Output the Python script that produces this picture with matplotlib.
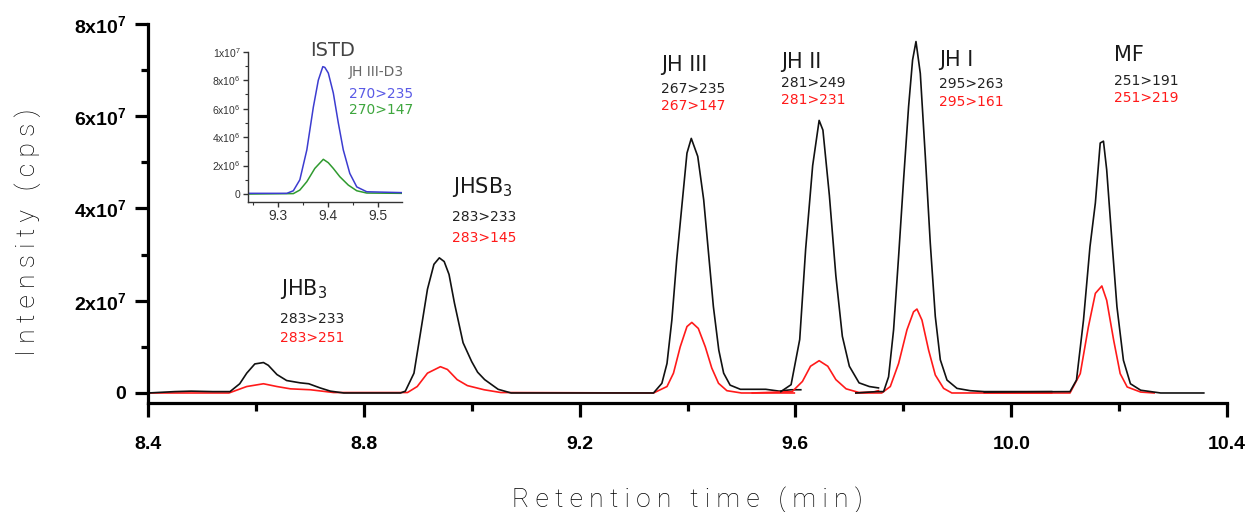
import numpy as np
import matplotlib
matplotlib.use("Agg")
import matplotlib.pyplot as plt
from matplotlib.ticker import MultipleLocator, FixedLocator

plt.rcParams['font.family'] = ['Liberation Sans', 'DejaVu Sans']
plt.rcParams['mathtext.fontset'] = 'custom'
plt.rcParams['mathtext.rm'] = 'DejaVu Sans'
plt.rcParams['mathtext.bf'] = 'Liberation Sans:bold'
plt.rcParams['mathtext.it'] = 'DejaVu Sans:italic'

# ---- chromatogram data (intensity in units of 1e7 cps) ----
# segment A: JHB3, JHSB3, JH III
seg_a_black_t = [8.40, 8.45, 8.48, 8.52, 8.552, 8.57, 8.583, 8.598, 8.614, 8.623, 8.639, 8.657,
                 8.682, 8.698, 8.719, 8.738, 8.763, 8.868, 8.877, 8.893, 8.905, 8.918, 8.930,
                 8.940, 8.949, 8.958, 8.968, 8.984, 9.000, 9.011, 9.024, 9.049, 9.073, 9.337,
                 9.3525, 9.362, 9.371, 9.380, 9.390, 9.399, 9.407, 9.419, 9.430, 9.439, 9.448,
                 9.458, 9.467, 9.479, 9.498, 9.545, 9.570, 9.592, 9.610]
seg_a_black_y = [0.00, 0.03, 0.04, 0.03, 0.03, 0.20, 0.43, 0.63, 0.66, 0.60, 0.40, 0.27,
                 0.22, 0.20, 0.11, 0.04, 0.00, 0.00, 0.04, 0.43, 1.30, 2.25, 2.79,
                 2.93, 2.85, 2.57, 1.95, 1.09, 0.68, 0.45, 0.29, 0.08, 0.00, 0.00,
                 0.21, 0.64, 1.58, 2.89, 4.11, 5.20, 5.52, 5.13, 4.19, 3.03, 1.87,
                 0.93, 0.43, 0.17, 0.08, 0.08, 0.04, 0.07, 0.07]
seg_a_red_t = [8.40, 8.55, 8.583, 8.614, 8.639, 8.664, 8.701, 8.744, 8.881, 8.899, 8.918,
               8.942, 8.955, 8.973, 8.992, 9.023, 9.054, 9.337, 9.362, 9.374, 9.3865, 9.399,
               9.408, 9.420, 9.433, 9.445, 9.4575, 9.473, 9.50, 9.598]
seg_a_red_y = [0.00, 0.00, 0.14, 0.20, 0.14, 0.09, 0.07, 0.01, 0.01, 0.14, 0.43,
               0.57, 0.51, 0.29, 0.16, 0.07, 0.01, 0.00, 0.14, 0.43, 1.00, 1.44,
               1.53, 1.40, 1.00, 0.54, 0.21, 0.05, 0.00, 0.00]

# segment B: JH II
seg_b_black_t = [9.573, 9.592, 9.608, 9.619, 9.632, 9.644, 9.651, 9.663, 9.675, 9.687, 9.700,
                 9.718, 9.737, 9.754]
seg_b_black_y = [0.03, 0.18, 1.16, 3.12, 4.93, 5.91, 5.70, 4.28, 2.54, 1.23, 0.58,
                 0.22, 0.14, 0.11]
seg_b_red_t = [9.520, 9.594, 9.613, 9.628, 9.644, 9.660, 9.675, 9.694, 9.718, 9.745, 9.754]
seg_b_red_y = [0.00, 0.03, 0.25, 0.58, 0.70, 0.58, 0.29, 0.09, 0.01, 0.02, 0.05]

# segment C: JH I
seg_c_black_t = [9.712, 9.751, 9.7635, 9.7727, 9.782, 9.7913, 9.8005, 9.8098, 9.8172, 9.8235,
                 9.8315, 9.8408, 9.850, 9.8593, 9.8686, 9.881, 9.8995, 9.924, 9.950, 10.075]
seg_c_black_y = [0.00, 0.03, 0.03, 0.35, 1.37, 2.96, 4.62, 6.21, 7.22, 7.62,
                 6.93, 5.13, 3.25, 1.66, 0.72, 0.28, 0.10, 0.05, 0.03, 0.03]
seg_c_red_t = [9.712, 9.760, 9.7759, 9.7913, 9.8068, 9.819, 9.8253, 9.8346, 9.8469, 9.8593,
               9.8747, 9.890, 10.075]
seg_c_red_y = [0.00, 0.00, 0.14, 0.64, 1.37, 1.76, 1.82, 1.58, 0.93, 0.39,
               0.10, 0.00, 0.00]

# segment D: MF
seg_d_black_t = [9.950, 10.109, 10.121, 10.134, 10.146, 10.156, 10.165, 10.171, 10.177, 10.187,
                 10.196, 10.208, 10.221, 10.240, 10.277, 10.357]
seg_d_black_y = [0.02, 0.03, 0.28, 1.58, 3.17, 4.12, 5.42, 5.46, 4.84, 3.25,
                 1.87, 0.71, 0.20, 0.06, 0.00, 0.00]
seg_d_red_t = [9.950, 10.109, 10.128, 10.143, 10.156, 10.168, 10.177, 10.190, 10.202, 10.215,
               10.240, 10.265]
seg_d_red_y = [0.00, 0.00, 0.42, 1.43, 2.16, 2.32, 2.01, 1.14, 0.42, 0.13, 0.02, 0.00]

# ISTD inset (intensity in units of 1e6 cps)
istd_blue_t = [9.24, 9.317, 9.33, 9.343, 9.357, 9.37, 9.38, 9.389, 9.393, 9.40, 9.41, 9.42,
               9.43, 9.443, 9.457, 9.477, 9.547]
istd_blue_y = [0.05, 0.05, 0.23, 1.0, 3.1, 6.1, 8.0, 8.95, 8.9, 8.5, 7.1, 5.0,
               3.1, 1.45, 0.5, 0.16, 0.1]
istd_green_t = [9.24, 9.33, 9.343, 9.357, 9.373, 9.39, 9.40, 9.41, 9.423, 9.44, 9.457, 9.477, 9.547]
istd_green_y = [0.0, 0.03, 0.28, 0.87, 1.8, 2.44, 2.2, 1.8, 1.22, 0.63, 0.23, 0.07, 0.05]

# peak labels: name, quantifier transition, qualifier transition
compounds = ['JHB$_{\\mathregular{3}}$', 'JHSB$_{\\mathregular{3}}$', 'JH III', 'JH II', 'JH I', 'MF']
quant_trans = ['283>233', '283>233', '267>235', '281>249', '295>263', '251>191']
qual_trans = ['283>251', '283>145', '267>147', '281>231', '295>161', '251>219']
label_x = [8.645, 8.964, 9.351, 9.573, 9.867, 10.191]
name_y = [2.125, 4.343, 6.988, 7.053, 7.096, 7.204]
quant_y = [1.511, 3.735, 6.511, 6.641, 6.606, 6.677]
qual_y = [1.099, 3.280, 6.135, 6.259, 6.229, 6.302]

x_ticks = [8.4, 8.8, 9.2, 9.6, 10.0, 10.4]
y_ticks = [0, 2e7, 4e7, 6e7, 8e7]
y_ticklabels = ['0', r'$\mathbf{2x10^{7}}$', r'$\mathbf{4x10^{7}}$', r'$\mathbf{6x10^{7}}$', r'$\mathbf{8x10^{7}}$']
inset_y_ticks = [0, 2e6, 4e6, 6e6, 8e6, 1e7]
inset_y_ticklabels = ['0', r'$\mathregular{2x10^{6}}$', r'$\mathregular{4x10^{6}}$',
                      r'$\mathregular{6x10^{6}}$', r'$\mathregular{8x10^{6}}$', r'$\mathregular{1x10^{7}}$']

RED = '#ff1a1a'
BLACK = '#111111'
BLUE = '#3c3cd0'
GREEN = '#2f9a2f'
ANNO = ['DejaVu Sans']
THIN = ['Roboto', 'DejaVu Sans']

fig = plt.figure(figsize=(12.5, 5.12), dpi=100)
ax = fig.add_axes([0.1184, 0.2129, 0.8632, 0.7402])

segments = [(seg_a_black_t, seg_a_black_y, seg_a_red_t, seg_a_red_y),
            (seg_b_black_t, seg_b_black_y, seg_b_red_t, seg_b_red_y),
            (seg_c_black_t, seg_c_black_y, seg_c_red_t, seg_c_red_y),
            (seg_d_black_t, seg_d_black_y, seg_d_red_t, seg_d_red_y)]
for bt, by, rt, ry in segments:
    ax.plot(rt, np.array(ry) * 1e7, color=RED, lw=1.2)
    ax.plot(bt, np.array(by) * 1e7, color=BLACK, lw=1.2)

ax.set_xlim(8.4, 10.4)
ax.set_ylim(-0.217e7, 8e7)
for side in ['top', 'right']:
    ax.spines[side].set_visible(False)
for side in ['left', 'bottom']:
    ax.spines[side].set_linewidth(2.3)

ax.xaxis.set_major_locator(FixedLocator(x_ticks))
ax.xaxis.set_minor_locator(MultipleLocator(0.2))
ax.yaxis.set_major_locator(FixedLocator(y_ticks))
ax.yaxis.set_minor_locator(MultipleLocator(1e7))
ax.set_xticklabels([f'{v:.1f}' for v in x_ticks], fontweight='bold', fontsize=14)
ax.set_yticklabels(y_ticklabels, fontsize=14, fontweight='bold')
ax.tick_params(axis='x', which='major', direction='out', length=10, width=2.3, pad=14)
ax.tick_params(axis='x', which='minor', direction='out', length=5.5, width=2.3)
ax.tick_params(axis='y', which='major', direction='out', length=9.5, width=2.3, pad=6)
ax.tick_params(axis='y', which='minor', direction='out', length=5, width=2.3)

for i in range(len(compounds)):
    ax.text(label_x[i], name_y[i] * 1e7, compounds[i], fontsize=15, color='#1a1a1a',
            family=ANNO, ha='left', va='baseline')
    ax.text(label_x[i], quant_y[i] * 1e7, quant_trans[i], fontsize=10, color='#222222',
            family=ANNO, ha='left', va='baseline')
    ax.text(label_x[i], qual_y[i] * 1e7, qual_trans[i], fontsize=10, color=RED,
            family=ANNO, ha='left', va='baseline')

fig.text(687 / 1250, 1 - 507 / 512, 'R e t e n t i o n   t i m e   ( m i n )',
         fontsize=19, family=THIN, fontweight='light', color='#000000', ha='center', va='baseline')
fig.text(28 / 1250, 1 - 232 / 512, 'I n t e n s i t y   ( c p s )',
         fontsize=19, family=THIN, fontweight='light', color='#000000', ha='center', va='center',
         rotation=90)

# inset: internal standard
axi = fig.add_axes([0.1987, 0.606, 0.1227, 0.293])
axi.plot(istd_green_t, np.array(istd_green_y) * 1e6, color=GREEN, lw=1.1)
axi.plot(istd_blue_t, np.array(istd_blue_y) * 1e6, color=BLUE, lw=1.1)
axi.set_xlim(9.24, 9.547)
axi.set_ylim(-0.054e7, 1e7)
for side in ['top', 'right']:
    axi.spines[side].set_visible(False)
for side in ['left', 'bottom']:
    axi.spines[side].set_linewidth(1.0)
    axi.spines[side].set_color('#333333')
axi.xaxis.set_major_locator(FixedLocator([9.3, 9.4, 9.5]))
axi.xaxis.set_minor_locator(FixedLocator([9.25, 9.35, 9.45]))
axi.yaxis.set_major_locator(FixedLocator(inset_y_ticks))
axi.yaxis.set_minor_locator(MultipleLocator(1e6))
axi.set_xticklabels(['9.3', '9.4', '9.5'], fontsize=10, color='#333333')
axi.set_yticklabels(inset_y_ticklabels, fontsize=7.5, color='#333333')
axi.tick_params(which='major', direction='out', length=3.5, width=1.0, color='#333333', pad=2)
axi.tick_params(which='minor', direction='out', length=2, width=0.8, color='#333333')
axi.patch.set_alpha(0)

axi.text(9.363, 9.70e6, 'ISTD', fontsize=14, family=ANNO, color='#444444', ha='left', va='baseline')
axi.text(9.440, 8.29e6, 'JH III-D3', fontsize=10, family=ANNO, color='#666666', ha='left', va='baseline')
axi.text(9.441, 6.73e6, '270>235', fontsize=10, family=ANNO, color='#5a5ae6', ha='left', va='baseline')
axi.text(9.441, 5.60e6, '270>147', fontsize=10, family=ANNO, color='#3ea63e', ha='left', va='baseline')

fig.savefig('out.png', dpi=100)
